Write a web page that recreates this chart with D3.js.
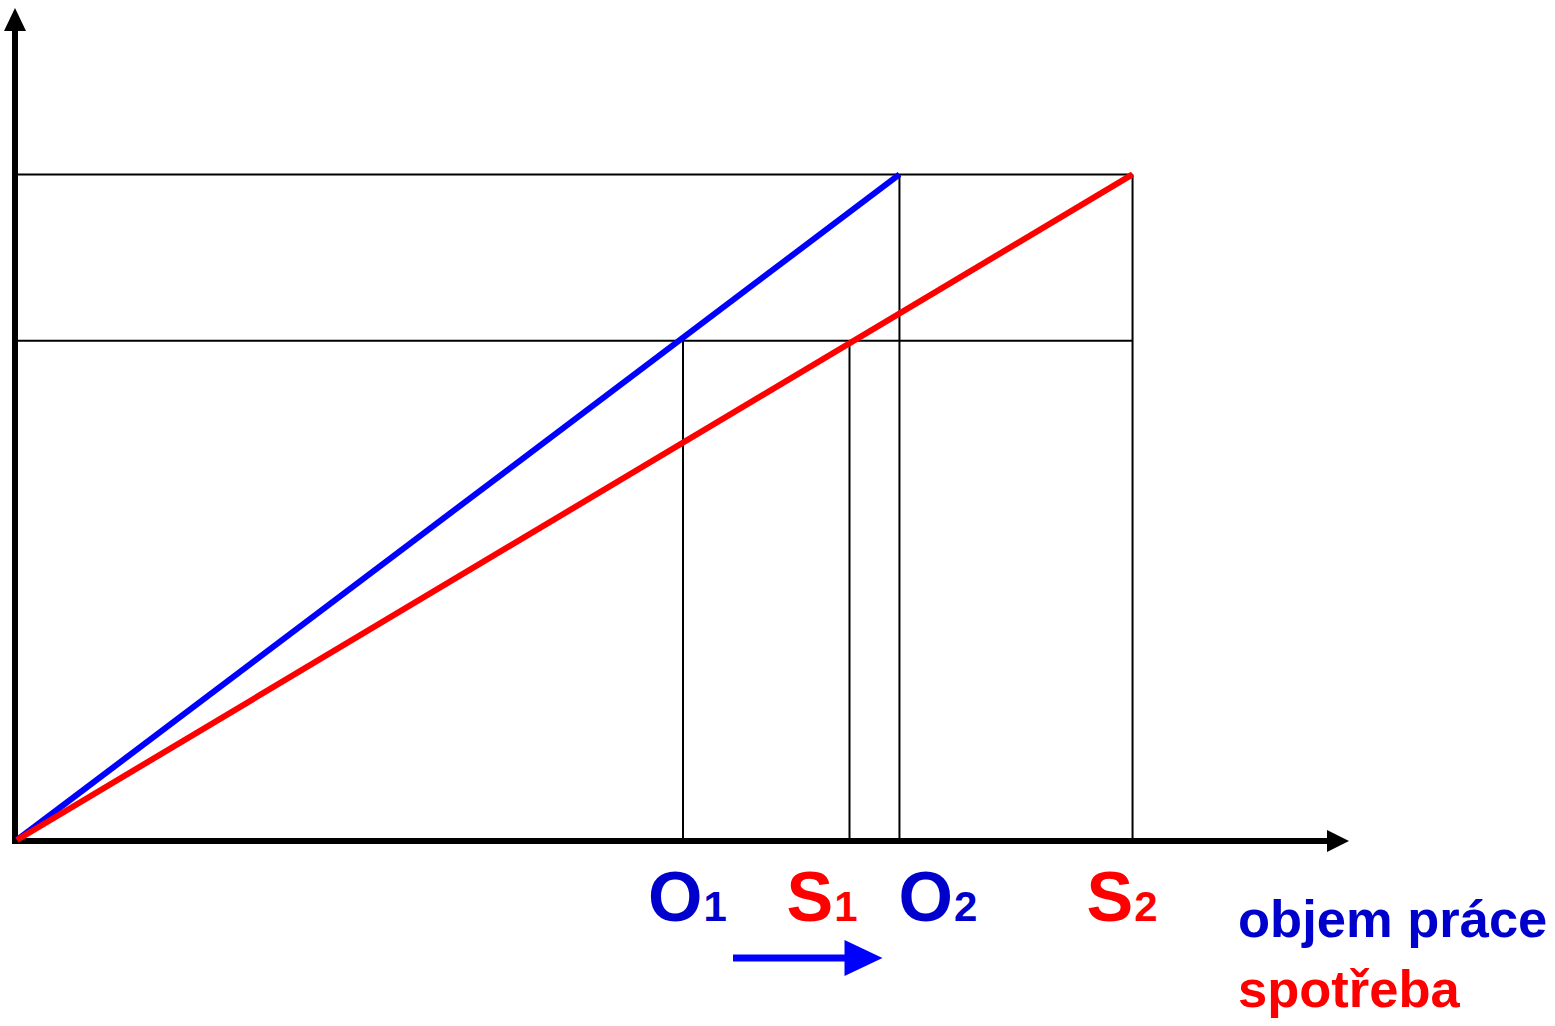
<!DOCTYPE html>
<html>
<head>
<meta charset="utf-8">
<script src="https://cdn.jsdelivr.net/npm/d3@7"></script>
<style>
  html, body { margin: 0; padding: 0; background: #fff; }
  svg { display: block; }
  text { font-family: "Liberation Sans", Arial, sans-serif; font-weight: bold; }
</style>
</head>
<body>
<svg id="chart" width="1555" height="1026"></svg>
<script>
// ---- data ----
const levels = [3, 4];              // output levels (lower, upper)
const workVolume = [4, 5.3];        // O1, O2
const consumption = [5, 6.7];       // S1, S2
const workLabels = [["O", "1"], ["O", "2"]];
const consLabels = [["S", "1"], ["S", "2"]];
const axisLabels = ["objem práce", "spotřeba"];
const xMax = 8, yMax = 5;

// ---- layout ----
const W = 1555, H = 1026;
const x = d3.scaleLinear().domain([0, xMax]).range([17, 1349]);
const y = d3.scaleLinear().domain([0, yMax]).range([840, 8]);
const BLUE = "#0000ff", DBLUE = "#0000cc", RED = "#ff0000";

const svg = d3.select("#chart");

// guide lines
const guides = svg.append("g").attr("stroke", "#000").attr("stroke-width", 2);
levels.forEach(l => {
  guides.append("line")
    .attr("x1", x(0)).attr("x2", x(consumption[1]))
    .attr("y1", y(l)).attr("y2", y(l));
});
[[workVolume[0], levels[0]], [consumption[0], levels[0]],
 [workVolume[1], levels[1]], [consumption[1], levels[1]]].forEach(([v, l]) => {
  guides.append("line")
    .attr("x1", x(v)).attr("x2", x(v))
    .attr("y1", y(0)).attr("y2", y(l));
});

// axes
const axes = svg.append("g");
axes.append("line").attr("x1", x(0) - 2).attr("x2", x(xMax) - 20)
  .attr("y1", y(0) + 1).attr("y2", y(0) + 1)
  .attr("stroke", "#000").attr("stroke-width", 6);
axes.append("path")
  .attr("d", `M${x(xMax)},${y(0) + 1} L${x(xMax) - 22},${y(0) - 10} L${x(xMax) - 22},${y(0) + 12} Z`)
  .attr("fill", "#000");
axes.append("line").attr("x1", x(0) - 2).attr("x2", x(0) - 2)
  .attr("y1", y(0) + 4).attr("y2", y(yMax) + 20)
  .attr("stroke", "#000").attr("stroke-width", 6);
axes.append("path")
  .attr("d", `M${x(0) - 2},${y(yMax)} L${x(0) - 13},${y(yMax) + 23} L${x(0) + 9},${y(yMax) + 23} Z`)
  .attr("fill", "#000");

// series lines
const line = d3.line().x(d => x(d[0])).y(d => y(d[1]));
svg.append("path").datum([[0, 0], [workVolume[1], levels[1]]])
  .attr("d", line).attr("stroke", BLUE).attr("stroke-width", 6).attr("fill", "none");
svg.append("path").datum([[0, 0], [consumption[1], levels[1]]])
  .attr("d", line).attr("stroke", RED).attr("stroke-width", 6).attr("fill", "none");

// tick labels
const labelY = 921;
function subLabel(parts, px, color) {
  const t = svg.append("text").attr("x", px).attr("y", labelY).attr("fill", color);
  t.append("tspan").attr("font-size", 70).text(parts[0]);
  t.append("tspan").attr("font-size", 42).attr("dx", 1).text(parts[1]);
}
subLabel(workLabels[0], x(workVolume[0]) - 35, DBLUE);
subLabel(consLabels[0], x(consumption[0]) - 63, RED);
subLabel(workLabels[1], x(workVolume[1]) - 1, DBLUE);
subLabel(consLabels[1], x(consumption[1]) - 46, RED);

// shift arrow
const ax0 = x(workVolume[0]) + 50, ax1 = x(consumption[0]) + 33;
svg.append("line").attr("x1", ax0).attr("x2", ax1 - 36)
  .attr("y1", 958).attr("y2", 958).attr("stroke", BLUE).attr("stroke-width", 7);
svg.append("path")
  .attr("d", `M${ax1},958 L${ax1 - 38},940 L${ax1 - 38},976 Z`).attr("fill", BLUE);

// axis titles
svg.append("text").attr("x", 1238).attr("y", 937).attr("font-size", 52.5)
  .attr("fill", DBLUE).text(axisLabels[0]);
svg.append("text").attr("x", 1238).attr("y", 1007).attr("font-size", 52.5)
  .attr("fill", RED).text(axisLabels[1]);
</script>
</body>
</html>
